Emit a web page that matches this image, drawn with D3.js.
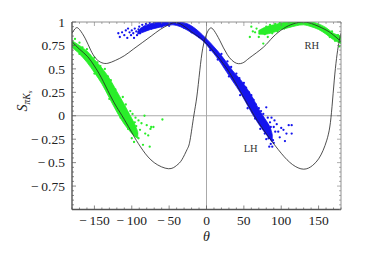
<!DOCTYPE html>
<html><head><meta charset="utf-8">
<script src="https://cdn.jsdelivr.net/npm/d3@7"></script>
<style>body{margin:0;background:#fff}svg{display:block}</style>
</head><body><svg id="c" width="387" height="267"></svg>
<script>
// ---- data ----
const xTicks = [-150,-100,-50,0,50,100,150];
const yTicks = [-0.75,-0.5,-0.25,0,0.25,0.5,0.75,1];
const curveLH = [[-180,0.88],[-175,0.935],[-170,0.92],[-162,0.82],[-155,0.70],[-148,0.61],[-140,0.565],[-132,0.56],[-122,0.59],[-110,0.64],[-98,0.71],[-86,0.78],[-74,0.85],[-62,0.92],[-52,0.965],[-45,0.99],[-35,0.98],[-20,0.895],[-10,0.84],[0,0.77],[12,0.66],[25,0.53],[36,0.39],[48,0.22],[56,0.11],[64,0.0],[72,-0.1],[83,-0.225],[100,-0.40],[115,-0.52],[130,-0.57],[142,-0.53],[150,-0.46],[156,-0.37],[161,-0.26],[165,-0.12],[168,0.10],[171,0.38],[174,0.61],[177,0.77],[180,0.88]];
const curveRH = [[-180,0.79],[-170,0.71],[-159,0.63],[-150,0.53],[-141,0.41],[-129,0.22],[-120,0.09],[-113,0.0],[-102,-0.15],[-96,-0.235],[-85,-0.37],[-70,-0.50],[-51,-0.565],[-40,-0.53],[-33,-0.47],[-26,-0.36],[-22,-0.26],[-17,0.0],[-13,0.2],[-9,0.48],[-5,0.72],[0,0.87],[5,0.935],[10,0.91],[18,0.80],[28,0.65],[40,0.56],[50,0.57],[58,0.62],[76,0.73],[89,0.84],[103,0.93],[116,0.98],[130,1.0],[145,0.97],[161,0.91],[170,0.86],[176,0.82],[180,0.79]];
// dense cores: [theta, low, high]
const bandLH = [[-92,0.87,0.90],[-85,0.89,0.95],[-75,0.92,0.98],[-65,0.94,1.0],[-55,0.96,1.0],[-45,0.97,1.0],[-35,0.95,1.0],[-25,0.91,0.98],[-15,0.86,0.93],[-5,0.80,0.86],[5,0.71,0.78],[15,0.61,0.69],[25,0.49,0.59],[35,0.37,0.48],[45,0.25,0.39],[55,0.11,0.28],[62,0.01,0.19],[70,-0.09,0.07],[78,-0.18,-0.03],[85,-0.25,-0.12],[88,-0.28,-0.2]];
const bandRH_left = [[-180,0.73,0.80],[-170,0.66,0.75],[-160,0.57,0.69],[-150,0.46,0.60],[-140,0.34,0.51],[-130,0.19,0.40],[-120,0.04,0.26],[-110,-0.09,0.12],[-102,-0.17,0.0],[-96,-0.22,-0.09],[-92,-0.24,-0.17]];
const bandRH_right = [[70,0.87,0.91],[80,0.87,0.95],[90,0.89,0.97],[100,0.92,0.99],[110,0.94,1.0],[120,0.96,1.0],[130,0.97,1.0],[140,0.95,1.0],[150,0.92,0.98],[160,0.87,0.94],[170,0.81,0.88],[180,0.77,0.85]];
const pointsLH = [[-118,0.88],[-116,0.84],[-113,0.89],[-110,0.86],[-108,0.91],[-106,0.83],[-105,0.93],[-103,0.89],[-101,0.86],[-100,0.91],[-98,0.88],[-97,0.83],[-96,0.93],[-94,0.90],[-93,0.86],[-91,0.92],[-90,0.95],[-89,0.88],[-87,0.93],[-86,0.97],[-84,0.91],[-83,0.95],[-81,0.98],[-80,0.92],[-78,0.96],[-76,0.99],[-74,0.93],[-72,0.97],[-70,0.99],[-68,0.95],
[-60,0.95],[-50,0.96],[-30,0.94],[-20,0.89],[-10,0.84],[0,0.79],[10,0.71],
[20,0.66],[28,0.58],[33,0.52],[40,0.45],[44,0.40],[50,0.35],[53,0.30],[57,0.25],[60,0.22],[63,0.17],[66,0.12],[70,0.08],[73,0.05],[76,0.02],[80,0.09],[82,-0.02],[85,-0.07],[86,-0.12],[89,-0.26],[91,-0.05],[92,-0.17],[94,-0.09],[96,-0.17],[98,-0.23],[100,-0.13],[103,-0.15],[105,-0.27],[107,-0.19],[110,-0.10],[114,-0.19],[114,-0.10],[78,-0.19],[80,-0.25],[83,-0.24],[86,-0.30],[88,-0.33],[84,-0.33],[90,-0.29],[79,-0.07],[87,-0.02],[90,-0.12],[75,-0.10],[68,0.02],
[5,0.70],[15,0.60],[30,0.42],[45,0.22],[55,0.08],[65,-0.03],[72,-0.14]];
const pointsRH = [[-176,0.82],[-170,0.78],[-166,0.73],[-160,0.71],[-156,0.64],[-150,0.62],[-146,0.57],[-142,0.53],[-138,0.43],[-136,0.50],[-132,0.42],[-128,0.38],[-126,0.31],[-122,0.28],[-120,0.22],[-117,0.17],[-114,0.13],[-112,0.20],[-110,0.08],[-108,0.12],[-106,0.03],[-104,-0.02],[-102,0.05],[-100,-0.24],[-98,-0.17],[-96,-0.07],[-94,-0.11],[-91,-0.24],[-91,-0.05],[-89,-0.15],[-87,-0.08],[-85,-0.31],[-83,0.0],[-82,-0.19],[-80,-0.10],[-78,-0.21],[-76,-0.33],[-75,-0.14],[-74,-0.12],[-71,-0.12],[-59,-0.04],
[-170,0.66],[-150,0.45],[-130,0.18],[-115,-0.02],[-105,-0.14],[-134,0.36],[-124,0.20],[-118,0.10],[-144,0.46],[-155,0.58],[-99,0.02],[-95,-0.02],[-93,-0.19],[-97,-0.28],
[58,0.84],[60,0.95],[62,0.90],[65,0.89],[67,0.93],[70,0.84],[72,0.90],[74,0.91],[76,0.77],[78,0.87],[80,0.95],[82,0.84],[85,0.97],[88,0.88],[92,0.98],[95,0.90],[98,0.99],[104,0.93],[165,0.84],[172,0.80],[178,0.74],[176,0.86],[168,0.90]];

// ---- drawing ----
const FONT = "'Liberation Serif','Times New Roman',serif";
const svg = d3.select("#c");
const x = d3.scaleLinear([-180,180],[72,341]);
const y = d3.scaleLinear([-1,1],[209.5,22]);
const blue = "#1414ee", green = "#2aee2a";

svg.append("clipPath").attr("id","clip").append("rect")
  .attr("x",x(-180)).attr("y",y(1)).attr("width",x(180)-x(-180)).attr("height",y(-1)-y(1));
const g = svg.append("g").attr("clip-path","url(#clip)");

g.append("line").attr("x1",x(-180)).attr("x2",x(180)).attr("y1",y(0)).attr("y2",y(0)).attr("stroke","#aaa").attr("stroke-width",1);
g.append("line").attr("x1",x(0)).attr("x2",x(0)).attr("y1",y(-1)).attr("y2",y(1)).attr("stroke","#aaa").attr("stroke-width",1);

const area = d3.area().x(d=>x(d[0])).y0(d=>y(d[1])).y1(d=>y(d[2])).curve(d3.curveCatmullRom);
[[bandLH,blue],[bandRH_left,green],[bandRH_right,green]].forEach(([b,c])=>{
  g.append("path").attr("d",area(b)).attr("fill",c).attr("stroke",c).attr("stroke-width",0.8);
});
g.selectAll("circle.lh").data(pointsLH).join("circle").attr("class","lh")
  .attr("cx",d=>x(d[0])).attr("cy",d=>y(d[1])).attr("r",1.15).attr("fill",blue);
g.selectAll("circle.rh").data(pointsRH).join("circle").attr("class","rh")
  .attr("cx",d=>x(d[0])).attr("cy",d=>y(d[1])).attr("r",1.15).attr("fill",green);

const line = d3.line().x(d=>x(d[0])).y(d=>y(d[1])).curve(d3.curveNatural);
[curveLH,curveRH].forEach(c=>{
  g.append("path").attr("d",line(c)).attr("fill","none").attr("stroke","#222").attr("stroke-width",0.8);
});

const fr = svg.append("g");
const L=x(-180),R=x(180),T=y(1),B=y(-1);
fr.append("line").attr("x1",L).attr("x2",R).attr("y1",T).attr("y2",T).attr("stroke","#777").attr("stroke-width",0.8);
fr.append("line").attr("x1",R).attr("x2",R).attr("y1",T).attr("y2",B).attr("stroke","#777").attr("stroke-width",0.8);
fr.append("line").attr("x1",L).attr("x2",R).attr("y1",B).attr("y2",B).attr("stroke","#555").attr("stroke-width",1.4);
fr.append("line").attr("x1",L).attr("x2",L).attr("y1",T).attr("y2",B).attr("stroke","#555").attr("stroke-width",1.4);

const xMinor = d3.range(-180,181,10), yMinor = d3.range(-1,1.001,0.05);
xMinor.forEach(v=>{
  const len = xTicks.includes(v)?4:2;
  fr.append("line").attr("x1",x(v)).attr("x2",x(v)).attr("y1",B).attr("y2",B-len).attr("stroke","#555").attr("stroke-width",0.7);
  fr.append("line").attr("x1",x(v)).attr("x2",x(v)).attr("y1",T).attr("y2",T+len).attr("stroke","#777").attr("stroke-width",0.6);
});
yMinor.forEach(v=>{
  const len = yTicks.some(t=>Math.abs(t-v)<1e-6)?4:2;
  fr.append("line").attr("x1",L).attr("x2",L+len).attr("y1",y(v)).attr("y2",y(v)).attr("stroke","#555").attr("stroke-width",0.7);
  fr.append("line").attr("x1",R).attr("x2",R-len).attr("y1",y(v)).attr("y2",y(v)).attr("stroke","#777").attr("stroke-width",0.6);
});

const fmt = v => (v<0?"\u2212\u2009":"") + String(Math.abs(v));
svg.selectAll("text.xt").data(xTicks).join("text").attr("class","xt")
  .attr("x",d=>x(d)).attr("y",224.5).attr("text-anchor","middle").attr("font-family",FONT).attr("font-size",13.5).attr("fill","#222").text(fmt);
svg.selectAll("text.yt").data(yTicks).join("text").attr("class","yt")
  .attr("x",65).attr("y",d=>y(d)).attr("dy","0.35em").attr("text-anchor","end").attr("font-family",FONT).attr("font-size",13.5).attr("fill","#222").text(fmt);

svg.append("text").attr("x",x(0)).attr("y",241).attr("text-anchor","middle").attr("font-family",FONT).attr("font-size",14).attr("font-style","italic").attr("fill","#222").text("θ");
const yl = svg.append("text").attr("transform","translate(27,101) rotate(-90)").attr("text-anchor","middle").attr("font-family",FONT).attr("font-size",14).attr("font-style","italic").attr("fill","#222");
yl.append("tspan").text("S");
yl.append("tspan").attr("font-size",9.5).attr("dy",3).text("πK");
yl.append("tspan").attr("font-size",7).attr("dy",2).text("s");

svg.append("text").attr("x",311.7).attr("y",48.5).attr("text-anchor","middle").attr("font-family",FONT).attr("font-size",10.5).attr("fill","#333").text("RH");
svg.append("text").attr("x",250.7).attr("y",152).attr("text-anchor","middle").attr("font-family",FONT).attr("font-size",10.5).attr("fill","#333").text("LH");
</script></body></html>
